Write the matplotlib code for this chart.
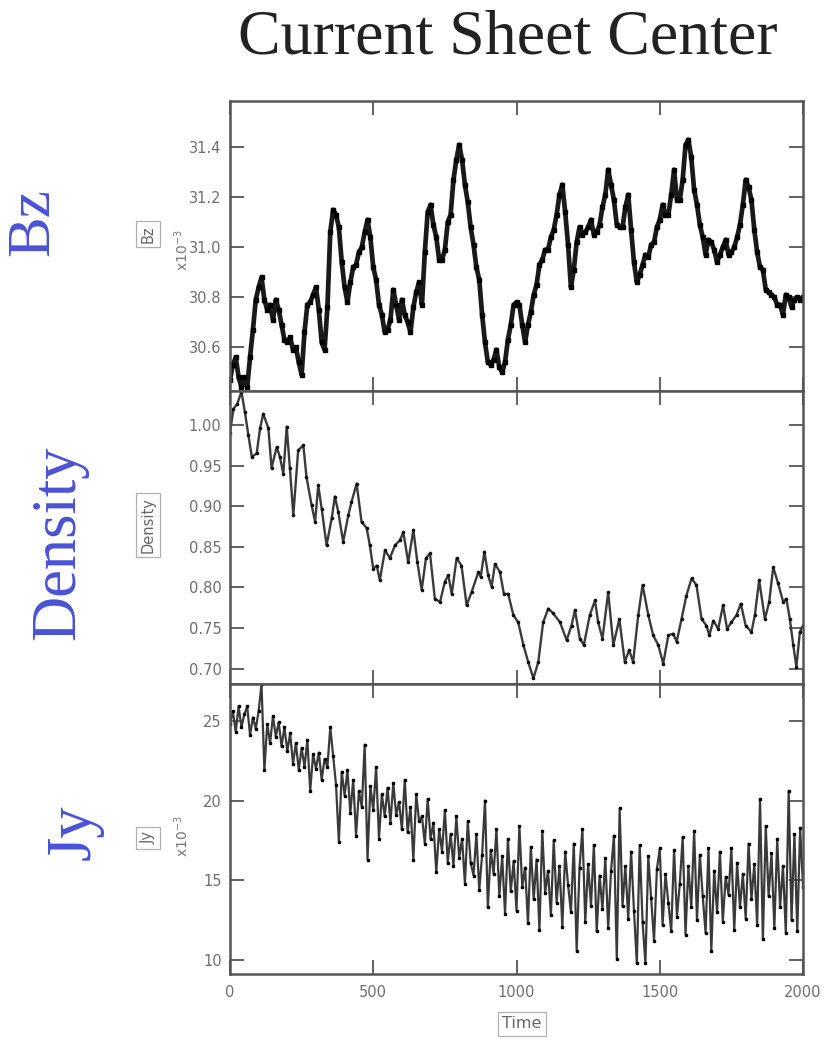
#!/usr/bin/env python3
"""Current sheet center: Bz, density and Jy time histories."""

import matplotlib

matplotlib.use("Agg")
import matplotlib.pyplot as plt
import numpy as np

# ── Data ──────────────────────────────────────────────────────────────────────
# Bz and Jy sampled every 10 time units (shown in units of 1e-3)
T_STEP = 10
BZ = [
    30.47, 30.53, 30.56, 30.48, 30.44, 30.48, 30.44, 30.56, 30.67, 30.79,
    30.84, 30.88, 30.79, 30.75, 30.77, 30.71, 30.79, 30.75, 30.69, 30.63,
    30.62, 30.64, 30.59, 30.60, 30.54, 30.49, 30.66, 30.77, 30.78, 30.81,
    30.84, 30.75, 30.62, 30.59, 30.76, 31.06, 31.15, 31.13, 31.08, 30.94,
    30.84, 30.78, 30.86, 30.92, 30.93, 30.98, 31.00, 31.06, 31.11, 31.04,
    30.92, 30.87, 30.77, 30.73, 30.66, 30.67, 30.71, 30.83, 30.77, 30.71,
    30.79, 30.73, 30.70, 30.66, 30.76, 30.82, 30.86, 30.77, 30.98, 31.14,
    31.17, 31.09, 31.04, 30.95, 30.95, 30.99, 31.10, 31.13, 31.27, 31.35,
    31.41, 31.35, 31.25, 31.18, 31.08, 31.01, 30.92, 30.87, 30.73, 30.62,
    30.54, 30.53, 30.55, 30.59, 30.52, 30.50, 30.54, 30.63, 30.69, 30.77,
    30.78, 30.77, 30.69, 30.62, 30.69, 30.74, 30.81, 30.85, 30.93, 30.95,
    30.99, 30.99, 31.04, 31.07, 31.13, 31.21, 31.25, 31.14, 31.01, 30.84,
    30.91, 31.02, 31.08, 31.05, 31.06, 31.08, 31.11, 31.05, 31.06, 31.09,
    31.16, 31.21, 31.31, 31.25, 31.19, 31.09, 31.08, 31.08, 31.16, 31.21,
    31.07, 30.94, 30.86, 30.89, 30.93, 30.97, 30.96, 31.01, 31.02, 31.08,
    31.11, 31.17, 31.13, 31.13, 31.21, 31.31, 31.19, 31.19, 31.27, 31.41,
    31.43, 31.36, 31.23, 31.17, 31.09, 31.04, 30.97, 31.03, 31.02, 30.99,
    30.94, 30.97, 31.00, 31.03, 30.97, 30.98, 31.00, 31.04, 31.09, 31.17,
    31.27, 31.24, 31.19, 31.07, 30.98, 30.92, 30.91, 30.83, 30.82, 30.81,
    30.80, 30.77, 30.77, 30.73, 30.81, 30.80, 30.76, 30.79, 30.80, 30.79,
    30.80,
]
JY = [
    24.8, 25.6, 24.3, 25.9, 24.6, 25.4, 25.9, 24.1, 25.2, 24.5,
    25.6, 27.3, 21.9, 24.8, 23.6, 25.3, 24.0, 24.9, 23.4, 24.6,
    23.1, 24.2, 22.3, 23.6, 21.9, 23.3, 22.1, 23.8, 20.6, 22.9,
    22.0, 23.0, 21.3, 22.6, 22.1, 24.6, 22.8, 21.0, 17.4, 21.8,
    20.3, 21.9, 19.2, 21.3, 17.8, 20.6, 19.6, 23.5, 16.3, 20.9,
    19.4, 22.1, 17.6, 20.4, 19.0, 20.8, 18.6, 21.1, 19.1, 19.9,
    18.2, 21.3, 18.0, 19.6, 16.3, 20.4, 18.7, 19.0, 17.3, 20.1,
    17.6, 18.6, 15.5, 18.2, 16.8, 19.4, 16.1, 17.9, 15.9, 19.0,
    16.4, 17.6, 14.8, 18.7, 16.1, 15.3, 17.9, 14.4, 16.6, 20.0,
    13.3, 16.9, 15.4, 18.2, 14.0, 16.5, 12.9, 17.6, 14.3, 16.2,
    13.1, 18.4, 14.6, 15.8, 12.3, 17.1, 13.8, 16.3, 11.9, 18.1,
    14.2, 15.6, 12.8, 17.5, 13.6, 15.9, 12.1, 16.8, 14.7, 13.0,
    17.3, 10.6, 15.8, 18.2, 12.4, 16.0, 13.4, 17.2, 11.8, 15.3,
    13.2, 16.4, 12.0, 15.6, 17.8, 10.1, 19.5, 13.4, 15.9, 12.6,
    16.8, 13.1, 9.8, 17.2, 12.4, 9.8, 16.5, 13.9, 11.2, 15.7,
    17.0, 12.2, 15.4, 13.6, 11.8, 16.9, 12.7, 14.8, 17.7, 11.6,
    15.9, 13.3, 18.1, 12.5, 16.6, 14.0, 11.7, 17.0, 10.6, 15.6,
    13.0, 16.8, 12.4, 15.2, 14.1, 17.0, 11.9, 16.1, 13.3, 15.4,
    12.6, 17.3, 13.8, 16.0, 12.2, 20.1, 11.3, 18.4, 14.0, 16.7,
    12.0, 17.6, 13.3, 15.9, 11.7, 20.6, 12.5, 17.9, 11.8, 18.3,
    14.6,
]

# density is smooth, kept at its turning points
DENS_T = [
    0, 12, 25, 40, 52, 64, 76, 93, 105, 116, 134, 145, 163, 174, 186, 198,
    209, 221, 238, 256, 267, 285, 297, 308, 320, 337, 355, 366, 378, 395,
    413, 424, 442, 459, 477, 488, 500, 512, 523, 541, 558, 576, 593, 605,
    622, 640, 654, 669, 684, 698, 715, 733, 750, 762, 774, 791, 808, 826,
    843, 867, 875, 888, 901, 913, 925, 942, 956, 971, 989, 1006, 1024,
    1041, 1059, 1076, 1093, 1111, 1128, 1152, 1175, 1192, 1204, 1221,
    1235, 1256, 1274, 1285, 1300, 1320, 1338, 1359, 1378, 1393, 1407,
    1425, 1440, 1460, 1477, 1495, 1512, 1530, 1547, 1559, 1576, 1593,
    1611, 1628, 1646, 1663, 1673, 1687, 1704, 1721, 1735, 1750, 1768,
    1783, 1800, 1820, 1832, 1847, 1867, 1882, 1896, 1913, 1931, 1942,
    1954, 1966, 1977, 1989, 2000,
]
DENS = [
    0.990, 1.020, 1.026, 1.041, 1.016, 0.988, 0.961, 0.965, 0.996, 1.014,
    0.996, 0.947, 0.973, 0.961, 0.940, 0.998, 0.947, 0.889, 0.969, 0.975,
    0.936, 0.901, 0.881, 0.926, 0.897, 0.852, 0.885, 0.912, 0.893, 0.856,
    0.889, 0.905, 0.928, 0.881, 0.873, 0.852, 0.823, 0.827, 0.809, 0.846,
    0.836, 0.852, 0.858, 0.868, 0.831, 0.871, 0.831, 0.797, 0.836, 0.842,
    0.786, 0.782, 0.807, 0.815, 0.792, 0.836, 0.827, 0.778, 0.794, 0.819,
    0.813, 0.844, 0.815, 0.801, 0.829, 0.819, 0.792, 0.792, 0.766, 0.757,
    0.729, 0.708, 0.688, 0.708, 0.757, 0.774, 0.768, 0.757, 0.735, 0.753,
    0.772, 0.737, 0.729, 0.766, 0.784, 0.757, 0.737, 0.794, 0.729, 0.761,
    0.708, 0.723, 0.708, 0.766, 0.803, 0.766, 0.741, 0.729, 0.706, 0.741,
    0.743, 0.733, 0.761, 0.790, 0.811, 0.803, 0.761, 0.753, 0.741, 0.759,
    0.749, 0.778, 0.749, 0.757, 0.766, 0.780, 0.753, 0.745, 0.766, 0.809,
    0.761, 0.782, 0.825, 0.805, 0.782, 0.786, 0.761, 0.729, 0.702, 0.745,
    0.753,
]

BZ_TICKS = [30.6, 30.8, 31.0, 31.2, 31.4]
DENS_TICKS = [0.70, 0.75, 0.80, 0.85, 0.90, 0.95, 1.00]
JY_TICKS = [10, 15, 20, 25]
TIME_TICKS = [0, 500, 1000, 1500, 2000]

# ── Style ─────────────────────────────────────────────────────────────────────
BLUE = "#4a52d6"
FRAME = "#555555"
TICKTXT = "#6e6e6e"
SERIF = ["Liberation Serif", "DejaVu Serif"]

W, H = 822, 1040
fig = plt.figure(figsize=(W / 100, H / 100), dpi=100)
fig.patch.set_facecolor("white")


def fx(px):
    return px / W


def fy(py):
    return 1 - py / H


LEFT, RIGHT = 230, 803
edges = [101, 391, 684, 974]
axes = []
for top, bot in zip(edges[:-1], edges[1:]):
    ax = fig.add_axes([fx(LEFT), fy(bot), fx(RIGHT - LEFT), (bot - top) / H])
    axes.append(ax)
ax_bz, ax_n, ax_jy = axes

t_grid = np.arange(len(BZ)) * T_STEP
ax_bz.plot(t_grid, BZ, color="#1a1a1a", lw=3.4)
ax_bz.plot(t_grid, BZ, "s", color="#000000", ms=2.2)
ax_n.plot(DENS_T, DENS, color="#3a3a3a", lw=1.7)
ax_n.plot(DENS_T, DENS, "o", color="#111111", ms=1.6)
ax_jy.plot(t_grid, JY, color="#3a3a3a", lw=1.6)
ax_jy.plot(t_grid, JY, "s", color="#000000", ms=2.0)

ax_bz.set_ylim(30.425, 31.585)
ax_n.set_ylim(0.681, 1.042)
ax_jy.set_ylim(9.13, 27.3)

ax_bz.set_yticks(BZ_TICKS)
ax_bz.set_yticklabels([f"{v:.1f}" for v in BZ_TICKS])
ax_n.set_yticks(DENS_TICKS)
ax_n.set_yticklabels([f"{v:.2f}" for v in DENS_TICKS])
ax_jy.set_yticks(JY_TICKS)
ax_jy.set_yticklabels([str(v) for v in JY_TICKS])

for ax in axes:
    ax.set_xlim(0, 2000)
    ax.set_xticks(TIME_TICKS)
    for s in ax.spines.values():
        s.set_color(FRAME)
        s.set_linewidth(1.8)
    ax.tick_params(direction="in", length=10, width=1.3, color=FRAME,
                   top=True, right=True, labelsize=10.5, labelcolor=TICKTXT, pad=6)
    if ax is not ax_jy:
        ax.tick_params(labelbottom=False)
ax_jy.set_xticklabels([str(v) for v in TIME_TICKS])
ax_jy.tick_params(axis="x", pad=8)

# boxed axis names and the 1e-3 multipliers
box = dict(boxstyle="square,pad=0.3", fc="white", ec="#b0b0b0", lw=0.9)
for name, ycen in (("Bz", 234), ("Density", 525), ("Jy", 838)):
    fig.text(fx(148), fy(ycen), name, rotation=90, ha="center", va="center",
             fontsize=10.5, color="#666666", bbox=box)
fig.text(fx(522), fy(1024), "Time", ha="center", va="center",
         fontsize=11.5, color="#666666", bbox=box)
for ycen in (250, 836):
    fig.text(fx(182), fy(ycen), r"x10$^{-3}$", rotation=90, ha="center",
             va="center", fontsize=10, color="#777777")

# big coloured panel names and title
fig.text(fx(34), fy(222), "Bz", rotation=90, ha="center", va="center",
         fontsize=44, color=BLUE, family=SERIF)
fig.text(fx(59), fy(543), "Density", rotation=90, ha="center", va="center",
         fontsize=45, color=BLUE, family=SERIF)
fig.text(fx(75), fy(832), "Jy", rotation=90, ha="center", va="center",
         fontsize=45, color=BLUE, family=SERIF)
fig.text(fx(508), fy(38), "Current Sheet Center", ha="center", va="center",
         fontsize=46, color="#222222", family=SERIF)

fig.savefig("out.png", dpi=100, facecolor="white")
plt.close(fig)
